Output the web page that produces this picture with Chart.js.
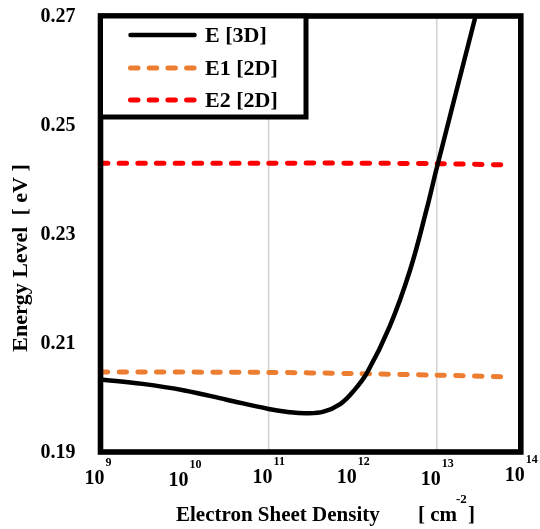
<!DOCTYPE html>
<html>
<head>
<meta charset="utf-8">
<script src="https://cdn.jsdelivr.net/npm/chart.js@4.4.0/dist/chart.umd.min.js"></script>
<style>
  html, body { margin: 0; padding: 0; background: #fff; }
  canvas { display: block; }
</style>
</head>
<body>
<canvas id="energyChart" width="540" height="529"></canvas>
<script>
// 3D energy level vs. electron sheet density (cm^-2)
const densities3D = [1e9, 3.16e9, 1e10, 3.16e10, 1e11, 1.78e11, 2.8e11, 4.5e11,
                     7.1e11, 1e12, 1.48e12, 2.75e12, 4.8e12, 7.6e12, 1e13, 2.9e13];
const energy3D = [0.2033, 0.2025, 0.2013, 0.1996, 0.1979, 0.1973, 0.1971, 0.1974,
                  0.1988, 0.2010, 0.2045, 0.2130, 0.2233, 0.2346, 0.2421, 0.2700];

// 2D sub-band levels
const densities2D = [1e9, 1e11, 1e12, 1e13, 6e13];
const energyE1 = [0.2047, 0.2046, 0.2044, 0.2041, 0.2038];
const energyE2 = [0.2430, 0.2430, 0.2430, 0.2429, 0.2427];

const seriesLabels = ['E [3D]', 'E1 [2D]', 'E2 [2D]'];
const yTicks = [0.19, 0.21, 0.23, 0.25, 0.27];
const xExponents = [9, 10, 11, 12, 13, 14];
const gridDensities = [1e11, 1e13];

const serif = '"Liberation Serif", "Times New Roman", serif';
const toPoints = (xs, ys) => xs.map((x, i) => ({ x: x, y: ys[i] }));

// small vertical nudges of the decade labels under the axis
const xLabelDrop = [32, 34, 31, 31, 33, 29];

const framePlugin = {
  id: 'frame',
  beforeDatasetsDraw(chart) {
    const { ctx, chartArea: a, scales } = chart;
    ctx.save();
    ctx.strokeStyle = '#d4d4d4';
    ctx.lineWidth = 1.6;
    gridDensities.forEach(d => {
      const px = scales.x.getPixelForValue(d);
      ctx.beginPath();
      ctx.moveTo(px, a.top);
      ctx.lineTo(px, a.bottom);
      ctx.stroke();
    });
    ctx.restore();
  },
  afterDatasetsDraw(chart) {
    const { ctx, chartArea: a, scales } = chart;
    ctx.save();

    // plot frame
    ctx.strokeStyle = '#000';
    ctx.lineWidth = 5.6;
    ctx.strokeRect(a.left, a.top, a.right - a.left, a.bottom - a.top);

    // legend box
    const lx = a.left, ly = a.top, lw = 205.5, lh = 101;
    ctx.fillStyle = '#fff';
    ctx.fillRect(lx, ly, lw, lh);
    ctx.lineWidth = 5;
    ctx.strokeRect(lx, ly, lw, lh);
    const rows = [35, 68, 100];
    chart.data.datasets.forEach((ds, i) => {
      ctx.beginPath();
      ctx.strokeStyle = ds.borderColor;
      ctx.lineWidth = ds.borderWidth;
      ctx.lineCap = 'round';
      ctx.setLineDash(ds.borderDash || []);
      ctx.moveTo(130.5, rows[i]);
      ctx.lineTo(194.5, rows[i]);
      ctx.stroke();
      ctx.setLineDash([]);
      ctx.fillStyle = '#000';
      ctx.font = 'bold 22px ' + serif;
      ctx.textAlign = 'left';
      ctx.textBaseline = 'middle';
      ctx.fillText(ds.label, 205, rows[i] + 1);
    });

    // y tick labels
    ctx.fillStyle = '#000';
    ctx.font = 'bold 20px ' + serif;
    ctx.textAlign = 'right';
    ctx.textBaseline = 'middle';
    yTicks.forEach(v => {
      ctx.fillText(v.toFixed(2), 75.5, scales.y.getPixelForValue(v) + 1);
    });

    // x tick labels as powers of ten
    ctx.textBaseline = 'alphabetic';
    xExponents.forEach((e, i) => {
      const px = scales.x.getPixelForValue(Math.pow(10, e));
      const base = a.bottom + xLabelDrop[i];
      ctx.font = 'bold 20px ' + serif;
      ctx.textAlign = 'right';
      ctx.fillText('10', px + 4, base);
      ctx.font = 'bold 12px ' + serif;
      ctx.textAlign = 'left';
      ctx.fillText(String(e), px + 5, base - 18);
    });

    // axis titles
    ctx.font = 'bold 21px ' + serif;
    ctx.textAlign = 'left';
    ctx.fillText('Electron Sheet Density', 176, 521);
    ctx.fillText('[ cm', 418, 521);
    ctx.fillText(']', 468, 521);
    ctx.font = 'bold 13px ' + serif;
    ctx.fillText('-2', 456, 503);

    ctx.translate(27, 258);
    ctx.rotate(-Math.PI / 2);
    ctx.font = 'bold 22px ' + serif;
    ctx.textAlign = 'center';
    ctx.fillText('Energy Level  [ eV ]', 0, 0);

    ctx.restore();
  }
};

new Chart(document.getElementById('energyChart'), {
  type: 'line',
  data: {
    datasets: [{
      label: seriesLabels[0],
      data: toPoints(densities3D, energy3D),
      borderColor: '#000000',
      borderWidth: 4.5,
      pointRadius: 0,
      tension: 0.4,
      clip: 0
    }, {
      label: seriesLabels[1],
      data: toPoints(densities2D, energyE1),
      borderColor: '#ED7D31',
      borderWidth: 5,
      borderDash: [7.5, 11.2],
      borderCapStyle: 'round',
      pointRadius: 0,
      tension: 0.3,
      clip: 0
    }, {
      label: seriesLabels[2],
      data: toPoints(densities2D, energyE2),
      borderColor: '#FF0000',
      borderWidth: 5,
      borderDash: [7.5, 11.2],
      borderCapStyle: 'round',
      pointRadius: 0,
      tension: 0.3,
      clip: 0
    }]
  },
  options: {
    responsive: false,
    devicePixelRatio: 1,
    animation: false,
    layout: { padding: { left: 100.5, right: 19.2, top: 16, bottom: 77 } },
    scales: {
      x: { type: 'logarithmic', min: 1e9, max: 1e14, display: false },
      y: { type: 'linear', min: 0.19, max: 0.27, display: false }
    },
    plugins: {
      legend: { display: false },
      tooltip: { enabled: false }
    }
  },
  plugins: [framePlugin]
});
</script>
</body>
</html>
